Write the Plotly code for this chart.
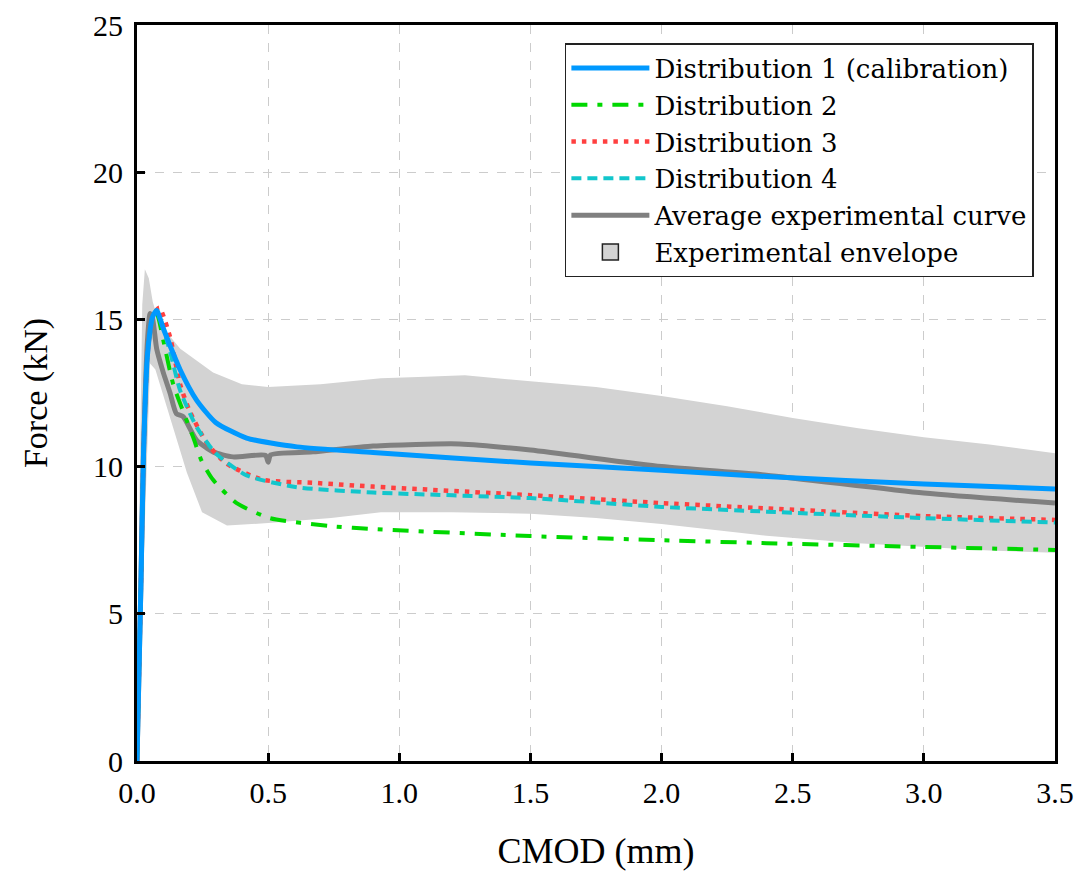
import plotly.graph_objects as go

# ---------------- data ----------------
env_upper_x = [0, 0.008, 0.02, 0.03, 0.045, 0.06, 0.08, 0.1, 0.165, 0.29, 0.4, 0.5, 0.7, 0.93, 1.1, 1.25, 1.5, 1.75, 2.0, 2.25, 2.5, 2.75, 3.0, 3.25, 3.5]
env_upper_y = [0, 8.0, 15.5, 16.7, 16.4, 15.6, 15.0, 14.7, 14.0, 13.2, 12.8, 12.7, 12.8, 13.0, 13.05, 13.1, 12.9, 12.7, 12.4, 12.05, 11.65, 11.3, 11.0, 10.75, 10.45]
env_lower_x = [0.0, 0.03, 0.05, 0.07, 0.1, 0.137, 0.19, 0.248, 0.343, 0.5, 0.74, 0.93, 1.2, 1.5, 1.75, 2.0, 2.4, 2.75, 3.0, 3.25, 3.5]
env_lower_y = [0.0, 8.0, 13.5, 13.3, 12.5, 11.35, 9.8, 8.45, 8.0, 8.08, 8.25, 8.45, 8.45, 8.4, 8.25, 8.05, 7.65, 7.4, 7.27, 7.15, 7.07]

avg_x = [0, 0.015, 0.025, 0.04, 0.05, 0.06, 0.075, 0.1, 0.126, 0.15, 0.176, 0.227, 0.29, 0.366, 0.49, 0.5, 0.51, 0.67, 0.9, 1.23, 1.5, 2.0, 2.4, 3.0, 3.5]
avg_y = [0, 6.0, 10.5, 14.3, 15.2, 15.0, 14.0, 13.2, 12.5, 11.8, 11.7, 10.9, 10.5, 10.33, 10.38, 10.15, 10.4, 10.5, 10.7, 10.77, 10.56, 10.0, 9.71, 9.1, 8.76]

d1_x = [0, 0.015, 0.025, 0.04, 0.06, 0.075, 0.1, 0.164, 0.227, 0.3, 0.418, 0.61, 0.9, 1.5, 2.0, 2.4, 3.0, 3.5]
d1_y = [0, 6.0, 10.5, 13.8, 15.1, 15.3, 14.7, 13.3, 12.26, 11.5, 10.97, 10.67, 10.48, 10.12, 9.88, 9.66, 9.41, 9.24]

d2_x = [0, 0.015, 0.025, 0.04, 0.06, 0.075, 0.1, 0.138, 0.214, 0.246, 0.29, 0.38, 0.507, 0.736, 0.9, 1.5, 2.0, 2.4, 3.0, 3.5]
d2_y = [0, 6.0, 10.5, 13.8, 15.1, 15.2, 14.3, 12.8, 11.0, 10.2, 9.55, 8.76, 8.25, 7.98, 7.88, 7.64, 7.5, 7.4, 7.27, 7.17]

d3_x = [0, 0.015, 0.025, 0.04, 0.06, 0.085, 0.126, 0.164, 0.2, 0.266, 0.342, 0.48, 0.67, 0.9, 1.5, 2.0, 2.4, 3.0, 3.5]
d3_y = [0, 6.0, 10.5, 13.8, 15.1, 15.4, 14.4, 12.8, 11.9, 10.8, 10.1, 9.55, 9.45, 9.32, 9.03, 8.76, 8.58, 8.32, 8.19]

d4_x = [0, 0.015, 0.025, 0.04, 0.06, 0.075, 0.126, 0.164, 0.227, 0.3, 0.418, 0.61, 0.9, 1.5, 2.0, 2.4, 3.0, 3.5]
d4_y = [0, 6.0, 10.5, 13.8, 15.1, 15.3, 13.9, 12.6, 11.35, 10.45, 9.7, 9.3, 9.12, 8.93, 8.63, 8.47, 8.25, 8.1]

x_ticks = [0.0, 0.5, 1.0, 1.5, 2.0, 2.5, 3.0, 3.5]
x_tick_labels = ["0.0", "0.5", "1.0", "1.5", "2.0", "2.5", "3.0", "3.5"]
y_ticks = [0, 5, 10, 15, 20, 25]

# ---------------- figure ----------------
FONT = "Liberation Serif"
LEG_FONT = "DejaVu Serif"
SM = 0.6
fig = go.Figure()

# envelope polygon
fig.add_trace(go.Scatter(
    x=env_upper_x + env_lower_x[::-1],
    y=env_upper_y + env_lower_y[::-1],
    fill="toself", fillcolor="#d3d3d3", mode="lines",
    line=dict(width=0, color="#d3d3d3"),
    showlegend=False, hoverinfo="skip"))

fig.add_trace(go.Scatter(x=avg_x, y=avg_y, mode="lines", name="Average experimental curve",
                         line=dict(color="#808080", width=5, shape="spline", smoothing=SM), legendrank=5))
fig.add_trace(go.Scatter(x=d2_x, y=d2_y, mode="lines", name="Distribution 2",
                         line=dict(color="#00d800", width=4, dash="16px,10px,5px,10px", shape="spline", smoothing=SM), legendrank=2))
fig.add_trace(go.Scatter(x=d3_x, y=d3_y, mode="lines", name="Distribution 3",
                         line=dict(color="#ff4040", width=4.5, dash="4.5px,6px", shape="spline", smoothing=SM), legendrank=3))
fig.add_trace(go.Scatter(x=d4_x, y=d4_y, mode="lines", name="Distribution 4",
                         line=dict(color="#12c6cc", width=4, dash="10px,6px", shape="spline", smoothing=SM), legendrank=4))
fig.add_trace(go.Scatter(x=d1_x, y=d1_y, mode="lines", name="Distribution 1 (calibration)",
                         line=dict(color="#0099ff", width=5, shape="spline", smoothing=SM), legendrank=1))
# legend entry for envelope (box with border)
fig.add_trace(go.Scatter(x=[None], y=[None], mode="markers", name="Experimental envelope",
                         marker=dict(symbol="square", size=16, color="#d3d3d3",
                                     line=dict(color="#222222", width=1.5)),
                         legendrank=6))

axis_common = dict(
    showline=True, linecolor="black", linewidth=3, mirror=True,
    ticks="inside", ticklen=8, tickwidth=2.5, tickcolor="black",
    showgrid=True, gridcolor="#cccccc", griddash="dash", gridwidth=1,
    zeroline=False, automargin=False,
    tickfont=dict(family=FONT, size=30, color="black"),
)

fig.update_xaxes(range=[0, 3.5], tickvals=x_ticks, ticktext=x_tick_labels,
                 ticklabelstandoff=3,
                 title=dict(text="CMOD (mm)", font=dict(family=FONT, size=36, color="black"), standoff=30),
                 **axis_common)
fig.update_yaxes(range=[0, 25], tickvals=y_ticks,
                 ticklabelstandoff=5,
                 title=dict(text="Force (kN)", font=dict(family=FONT, size=34, color="black"), standoff=36),
                 **axis_common)

fig.update_layout(
    width=1075, height=873, autosize=False,
    margin=dict(l=137, r=20, t=25, b=112, autoexpand=False),
    paper_bgcolor="white", plot_bgcolor="white",
    font=dict(family=FONT, color="black"),
    legend=dict(x=0.977, y=0.9755, xanchor="right", yanchor="top",
                bgcolor="white", bordercolor="#222222", borderwidth=1.5,
                font=dict(family=LEG_FONT, size=26, color="black"),
                tracegroupgap=0, itemwidth=78),
    showlegend=True,
)

fig.write_html("out.html")
